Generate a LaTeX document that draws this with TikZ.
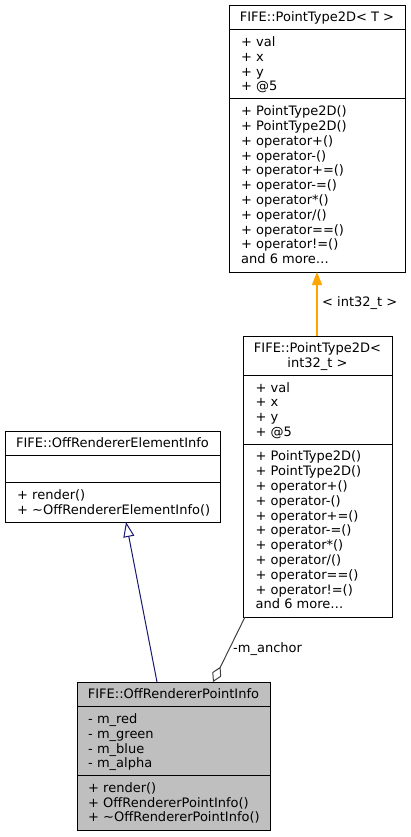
\documentclass[tikz,border=0pt]{standalone}
\usepackage{fontspec}
\setmainfont{DejaVu Sans}
\usetikzlibrary{arrows.meta}
\definecolor{navyline}{RGB}{25,25,112}
\definecolor{aggline}{RGB}{64,64,64}
\definecolor{boxgray}{RGB}{191,191,191}
\definecolor{inhorange}{RGB}{255,165,0}
\begin{document}
\begin{tikzpicture}[x=1pt,y=-1pt,
  txt/.style={font=\fontsize{13}{14.8}\selectfont, inner sep=0pt, anchor=base west},
  ttl/.style={font=\fontsize{13}{14.8}\selectfont, inner sep=0pt, anchor=base},
  classbox/.style={draw=black, line width=1pt, anchor=north west, inner sep=0pt},
  sep/.style={line width=1pt}]
\useasboundingbox (0,0) rectangle (411,837);
\fill[white] (0,0) rectangle (411,837);
\def\dy{4.7}
\def\L{14.8}

% Box 1: PointType2D<T>
\node[classbox, minimum width=176pt, minimum height=267pt] (b1) at (229,5) {};
\draw[sep] (229,29.6) -- (405,29.6);
\draw[sep] (229,98.8) -- (405,98.8);
\node[ttl] (b1t) at (317,17.2+\dy) {FIFE::PointType2D< T >};
\foreach \t [count=\i from 0] in {+ val,+ x,+ y,+ @5}
  \node[txt] (b1a\i) at (241,{41.8+\dy+\L*\i}) {\t};
\foreach \t [count=\i from 0] in {+ PointType2D(),+ PointType2D(),+ operator+(),+ operator-(),+ operator+=(),+ operator-=(),+ operator*(),+ operator/(),+ operator==(),+ operator!=(),{and 6 more\dots}}
  \node[txt] (b1m\i) at (241,{111+\dy+\L*\i}) {\t};

% Box 2: PointType2D<int32_t>
\node[classbox, minimum width=149pt, minimum height=281pt] (b2) at (243,336) {};
\draw[sep] (243,375.2) -- (392,375.2);
\draw[sep] (243,444) -- (392,444);
\node[ttl] (b2t1) at (317.5,348.2+\dy) {FIFE::PointType2D<};
\node[ttl] (b2t2) at (317.5,363+\dy) {int32\_t >};
\foreach \t [count=\i from 0] in {+ val,+ x,+ y,+ @5}
  \node[txt] (b2a\i) at (255.5,{387.4+\dy+\L*\i}) {\t};
\foreach \t [count=\i from 0] in {+ PointType2D(),+ PointType2D(),+ operator+(),+ operator-(),+ operator+=(),+ operator-=(),+ operator*(),+ operator/(),+ operator==(),+ operator!=(),{and 6 more\dots}}
  \node[txt] (b2m\i) at (255.5,{456.2+\dy+\L*\i}) {\t};

% Box 3: OffRendererElementInfo
\node[classbox, minimum width=215pt, minimum height=91pt] (b3) at (5,431) {};
\draw[sep] (5,455.6) -- (220,455.6);
\draw[sep] (5,482.6) -- (220,482.6);
\node[ttl] (b3t) at (112.5,443.2+\dy) {FIFE::OffRendererElementInfo};
\node[txt] (b3m0) at (17,494.8+\dy) {+ render()};
\node[txt] (b3m1) at (17,509.6+\dy) {+ \char"007E OffRendererElementInfo()};

% Box 4: OffRendererPointInfo
\node[classbox, fill=boxgray, minimum width=193pt, minimum height=148pt] (b4) at (77,682) {};
\draw[sep] (77,706.5) -- (270,706.5);
\draw[sep] (77,775.3) -- (270,775.3);
\node[ttl] (b4t) at (173.5,694.2+\dy) {FIFE::OffRendererPointInfo};
\foreach \t [count=\i from 0] in {- m\_red,- m\_green,- m\_blue,- m\_alpha}
  \node[txt] (b4a\i) at (88,{718.7+\dy+\L*\i}) {\t};
\node[txt] (b4m0) at (88,787.5+\dy) {+ render()};
\node[txt] (b4m1) at (88,802.3+\dy) {+ OffRendererPointInfo()};
\node[txt] (b4m2) at (88,817.1+\dy) {+ \char"007E OffRendererPointInfo()};

% Connectors
\coordinate (c1) at (317,272);
\coordinate (c2) at (317,336);
\draw[inhorange, line width=1.1pt, -{Triangle[length=13pt,width=10pt]}] (c2) -- (c1);
\node[txt] (lbl1) at (322,302+\dy) {< int32\_t >};

\coordinate (d1) at (157,682);
\coordinate (d2) at (126,522);
\draw[navyline, line width=1pt, -{Triangle[open,length=15pt,width=11pt,fill=white]}] (d1) -- (d2);

\coordinate (e1) at (245,617);
\coordinate (e2) at (213,682);
\draw[aggline, line width=1pt, -{Diamond[open,length=17pt,width=10pt,fill=white]}] (e1) -- (e2);
\node[txt] (lbl2) at (233,648+\dy) {-m\_anchor};
\end{tikzpicture}
\end{document}
